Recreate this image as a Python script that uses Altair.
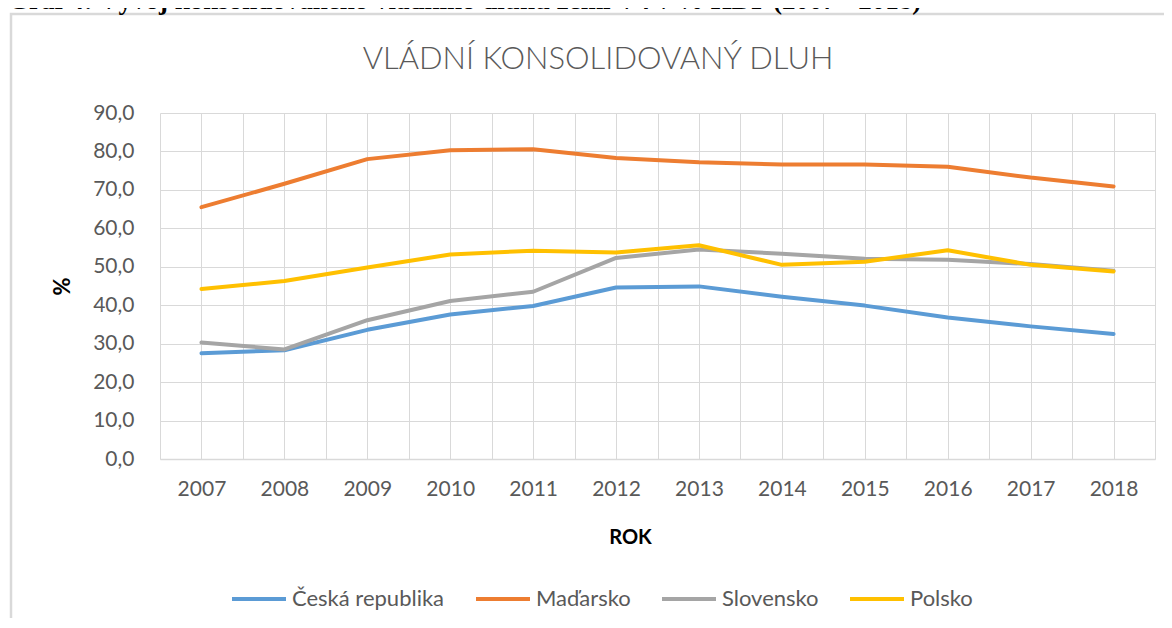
import altair as alt
import pandas as pd

years = [2007, 2008, 2009, 2010, 2011, 2012, 2013, 2014, 2015, 2016, 2017, 2018]
countries = ["Česká republika", "Maďarsko", "Slovensko", "Polsko"]
colors = ["#5B9BD5", "#ED7D31", "#A5A5A5", "#FFC000"]
cz = [27.5, 28.3, 33.6, 37.6, 39.8, 44.6, 44.9, 42.2, 39.9, 36.8, 34.5, 32.5]
hu = [65.5, 71.6, 78.0, 80.3, 80.6, 78.3, 77.2, 76.6, 76.6, 76.0, 73.2, 70.9]
sk = [30.3, 28.5, 36.1, 41.1, 43.5, 52.3, 54.5, 53.4, 52.1, 51.8, 50.7, 49.0]
pl = [44.2, 46.3, 49.8, 53.2, 54.2, 53.7, 55.6, 50.5, 51.3, 54.3, 50.5, 48.8]
y_ticks = [0, 10, 20, 30, 40, 50, 60, 70, 80, 90]

header = "Graf 4: Vývoj konsolidovaného vládního dluhu zemí V4 v % HDP (2007 - 2018)"
title = "VLÁDNÍ KONSOLIDOVANÝ DLUH"

rows = []
for name, series in zip(countries, [cz, hu, sk, pl]):
    for yr, v in zip(years, series):
        rows.append({"rok": yr, "zeme": name, "dluh": v})
df = pd.DataFrame(rows)

# grid positions: band edges and centres around each year
x_grid = [years[0] - 0.5 + 0.5 * i for i in range(2 * len(years) + 1)]

FONT = "Lato"
GREY = "#595959"

lines = alt.Chart(df).mark_line(strokeWidth=4, strokeCap="round", strokeJoin="round").encode(
    x=alt.X("rok:Q",
            scale=alt.Scale(domain=[years[0] - 0.5, years[-1] + 0.5], nice=False, zero=False),
            axis=alt.Axis(values=x_grid, labelExpr="datum.value % 1 == 0 ? '' + datum.value : ''",
                          grid=True, gridColor="#d9d9d9", gridWidth=1, ticks=False,
                          domain=True, domainColor="#d9d9d9", domainWidth=1.5,
                          labelFont=FONT, labelFontSize=21, labelColor=GREY, labelPadding=19,
                          labelOverlap=False, labelFlush=False,
                          title="ROK", titleFont=FONT, titleFontSize=20, titleFontWeight="bold",
                          titleColor="#000000", titleX=470, titleY=78, titleBaseline="middle",
                          titleAlign="center")),
    y=alt.Y("dluh:Q",
            scale=alt.Scale(domain=[0, 90], nice=False),
            axis=alt.Axis(values=y_ticks, labelExpr="replace(format(datum.value, '.1f'), '.', ',')",
                          grid=True, gridColor="#d9d9d9", gridWidth=1, ticks=False, domain=False,
                          labelFont=FONT, labelFontSize=21, labelColor=GREY, labelPadding=26,
                          title="%", titleFont=FONT, titleFontSize=22, titleFontWeight="bold",
                          titleColor="#000000", titleX=-98, titleY=173, titleAngle=-90,
                          titleAlign="center", titleBaseline="middle")),
    color=alt.Color("zeme:N",
                    scale=alt.Scale(domain=countries, range=colors),
                    sort=countries,
                    legend=alt.Legend(orient="none", legendX=70, legendY=457, direction="horizontal",
                                      title=None, symbolType="stroke", symbolSize=2916,
                                      symbolStrokeWidth=4, labelFont=FONT, labelFontSize=22,
                                      labelColor=GREY, labelOffset=4, columnPadding=23,
                                      labelLimit=400)),
    order=alt.Order("zeme_order:Q"),
).transform_calculate(
    zeme_order="indexof(" + str(countries).replace("'", '"') + ", datum.zeme)"
)

deco = alt.Data(values=[{}])

box = alt.Chart(deco).mark_rect(fill=None, stroke="#d9d9d9", strokeWidth=2.5).encode(
    x=alt.value(-149), x2=alt.value(1100), y=alt.value(-99), y2=alt.value(700)
)

title_text = alt.Chart(deco).mark_text(
    text=title, font=FONT, fontSize=31, fontWeight=300, color=GREY,
    align="center", baseline="middle"
).encode(x=alt.value(438), y=alt.value(-53))

header_text = alt.Chart(deco).mark_text(
    text=header, font="Liberation Serif", fontSize=27, fontWeight="bold", color="#000000",
    align="left", baseline="alphabetic"
).encode(x=alt.value(-152), y=alt.value(-104))

chart = alt.layer(box, header_text, title_text, lines).properties(
    width=995, height=346,
    autosize=alt.AutoSizeParams(type="none"),
    padding={"left": 152, "top": 105, "right": 9, "bottom": 159},
    background="#ffffff",
).configure_view(stroke=None)

chart.save("out.html", embed_options={"renderer": "svg", "actions": False})
